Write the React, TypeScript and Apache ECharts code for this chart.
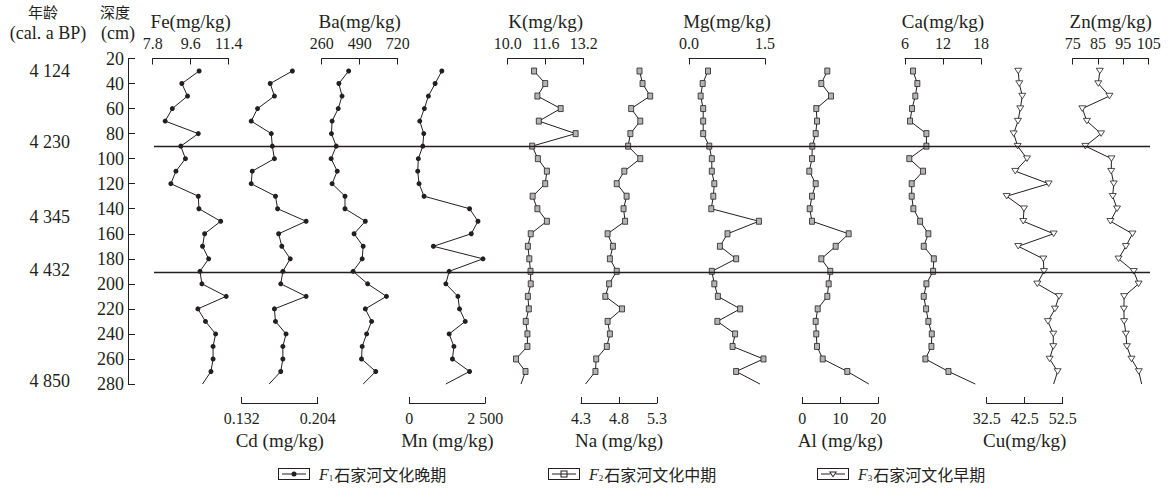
import React, { useEffect, useRef } from 'react';
import * as echarts from 'echarts';

// ---------- data ----------
// sample depths (cm); the last entry (280) is where each profile line ends, without a marker
const depths = [30, 40, 50, 60, 70, 80, 90, 100, 110, 120, 130, 140, 150, 160, 170, 180, 190, 200, 210, 220, 230, 240, 250, 260, 270, 280];

const feValues = [10.0, 9.18, 9.45, 8.73, 8.39, 9.96, 9.13, 9.35, 8.9, 8.66, 9.96, 9.99, 11.02, 10.26, 10.16, 10.45, 10.04, 10.13, 11.28, 9.94, 10.3, 10.78, 10.66, 10.66, 10.56, 10.16];
const cdValues = [0.180, 0.159, 0.163, 0.147, 0.141, 0.160, 0.161, 0.163, 0.142, 0.141, 0.164, 0.166, 0.193, 0.167, 0.170, 0.178, 0.171, 0.169, 0.193, 0.163, 0.164, 0.174, 0.171, 0.171, 0.169, 0.158];
const baValues = [423, 364, 383, 360, 323, 319, 348, 317, 354, 323, 401, 401, 524, 456, 511, 505, 450, 538, 652, 524, 562, 532, 505, 501, 587, 511];
const mnValues = [1070, 849, 628, 495, 344, 476, 443, 297, 277, 320, 486, 1982, 2259, 2038, 793, 2424, 1311, 1202, 1599, 1652, 1840, 1311, 1467, 1420, 1982, 1202];
const kValues = [11.11, 11.58, 11.25, 12.23, 11.31, 12.86, 11.03, 11.27, 11.65, 11.58, 11.05, 11.25, 11.65, 10.97, 10.85, 10.91, 10.96, 10.97, 10.85, 10.89, 10.76, 10.83, 10.83, 10.35, 10.75, 10.56];
const naValues = [5.07, 5.11, 5.21, 4.96, 5.08, 4.95, 4.92, 5.08, 4.87, 4.77, 4.90, 4.86, 4.88, 4.65, 4.72, 4.68, 4.77, 4.67, 4.62, 4.84, 4.65, 4.68, 4.64, 4.50, 4.49, 4.36];
const mgValues = [0.375, 0.27, 0.23, 0.28, 0.28, 0.28, 0.40, 0.45, 0.45, 0.50, 0.48, 0.44, 1.38, 0.76, 0.61, 0.93, 0.45, 0.50, 0.57, 1.01, 0.56, 0.91, 0.86, 1.47, 0.93, 1.40];
const alValues = [6.58, 5.0, 7.55, 3.68, 3.87, 3.52, 2.63, 2.55, 1.84, 3.52, 2.55, 1.95, 2.55, 12.2, 8.78, 5.0, 7.36, 6.94, 6.58, 4.05, 3.52, 3.68, 3.87, 5.37, 11.84, 17.5];
const caValues = [7.27, 7.95, 7.63, 7.11, 6.79, 9.38, 9.38, 6.68, 8.85, 7.06, 7.06, 7.32, 8.38, 9.69, 8.96, 10.55, 10.44, 9.38, 8.96, 9.33, 9.69, 10.23, 10.17, 9.22, 12.86, 17.1];
const cuValues = [40.8, 41.07, 41.86, 41.34, 40.73, 39.6, 40.65, 43.1, 40.02, 48.8, 37.76, 42.31, 42.13, 50.12, 40.81, 47.39, 47.57, 45.81, 51.52, 50.46, 48.62, 50.02, 50.02, 49.07, 51.17, 50.12];
const znValues = [85.7, 85.1, 89.5, 78.8, 80.6, 86.2, 80.0, 90.3, 90.2, 91.2, 90.8, 92.5, 89.9, 98.6, 96.0, 93.1, 99.1, 101.0, 95.3, 95.2, 95.3, 96.0, 96.4, 98.2, 101.1, 102.2];

// scale brackets
const feTicks = [7.8, 9.6, 11.4];
const feTickLabels = ['7.8', '9.6', '11.4'];
const cdTicks = [0.132, 0.204];
const cdTickLabels = ['0.132', '0.204'];
const baTicks = [260, 490, 720];
const baTickLabels = ['260', '490', '720'];
const mnTicks = [0, 2500];
const mnTickLabels = ['0', '2 500'];
const kTicks = [10.0, 11.6, 13.2];
const kTickLabels = ['10.0', '11.6', '13.2'];
const naTicks = [4.3, 4.8, 5.3];
const naTickLabels = ['4.3', '4.8', '5.3'];
const mgTicks = [0.0, 1.5];
const mgTickLabels = ['0.0', '1.5'];
const alTicks = [0, 10, 20];
const alTickLabels = ['0', '10', '20'];
const caTicks = [6, 12, 18];
const caTickLabels = ['6', '12', '18'];
const cuTicks = [32.5, 42.5, 52.5];
const cuTickLabels = ['32.5', '42.5', '52.5'];
const znTicks = [75, 85, 95, 105];
const znTickLabels = ['75', '85', '95', '105'];

// depth axis
const depthTicks = [20, 40, 60, 80, 100, 120, 140, 160, 180, 200, 220, 240, 260, 280];
// ages (cal. a BP) and the depths they are written at
const ageDepths = [30, 87, 147, 189, 278];
const ageLabels = ['4 124', '4 230', '4 345', '4 432', '4 850'];
// zone boundaries (cm)
const boundaryDepths = [90, 191];
// legend
const legendNames = ['F1石家河文化晚期', 'F2石家河文化中期', 'F3石家河文化早期'];

// ---------- styling / layout ----------
const INK = '#231f20';
const SERIF = 'Liberation Serif';
const CJK = 'Noto Sans CJK SC';
const TOP = 58.5;
const H = 325.5;
const PANEL_W = 76;
const panelLeft = [152.7, 241.7, 321.7, 409.3, 507.7, 581, 689, 802.3, 905, 986.7, 1072.7];
const legendLeft = [278, 548, 817];

type Mark = 'dot' | 'square' | 'tri';
const panels: { name: string; values: number[]; ticks: number[]; labels: string[]; side: 'top' | 'bottom'; mark: Mark }[] = [
  { name: 'Fe(mg/kg)', values: feValues, ticks: feTicks, labels: feTickLabels, side: 'top', mark: 'dot' },
  { name: 'Cd (mg/kg)', values: cdValues, ticks: cdTicks, labels: cdTickLabels, side: 'bottom', mark: 'dot' },
  { name: 'Ba(mg/kg)', values: baValues, ticks: baTicks, labels: baTickLabels, side: 'top', mark: 'dot' },
  { name: 'Mn (mg/kg)', values: mnValues, ticks: mnTicks, labels: mnTickLabels, side: 'bottom', mark: 'dot' },
  { name: 'K(mg/kg)', values: kValues, ticks: kTicks, labels: kTickLabels, side: 'top', mark: 'square' },
  { name: 'Na (mg/kg)', values: naValues, ticks: naTicks, labels: naTickLabels, side: 'bottom', mark: 'square' },
  { name: 'Mg(mg/kg)', values: mgValues, ticks: mgTicks, labels: mgTickLabels, side: 'top', mark: 'square' },
  { name: 'Al (mg/kg)', values: alValues, ticks: alTicks, labels: alTickLabels, side: 'bottom', mark: 'square' },
  { name: 'Ca(mg/kg)', values: caValues, ticks: caTicks, labels: caTickLabels, side: 'top', mark: 'square' },
  { name: 'Cu(mg/kg)', values: cuValues, ticks: cuTicks, labels: cuTickLabels, side: 'bottom', mark: 'tri' },
  { name: 'Zn(mg/kg)', values: znValues, ticks: znTicks, labels: znTickLabels, side: 'top', mark: 'tri' },
];

const markStyle: Record<Mark, any> = {
  dot: { symbol: 'circle', symbolSize: 5, symbolRotate: 0, itemStyle: { color: INK } },
  square: { symbol: 'rect', symbolSize: [5, 6], symbolRotate: 0, itemStyle: { color: '#b4b4b4', borderColor: INK, borderWidth: 0.8 } },
  tri: { symbol: 'triangle', symbolSize: [7, 5.5], symbolRotate: 180, itemStyle: { color: '#ffffff', borderColor: INK, borderWidth: 0.8 } },
};

const legendIcons = [
  'path://M0,0H32V12H0Z M1,1V11H31V1Z M4,5.5H28V6.5H4Z M13.5,6A2.5,2.5,0,0,1,18.5,6A2.5,2.5,0,0,1,13.5,6Z',
  'path://M0,0H32V12H0Z M1,1V11H31V1Z M4,5.5H28V6.5H4Z M12.5,2.5H19.5V9.5H12.5Z M13.5,3.5V8.5H18.5V3.5Z',
  'path://M0,0H32V12H0Z M1,1V11H31V1Z M4,5.5H13.3V6.5H4Z M18.7,5.5H28V6.5H18.7Z M12,3.5H20L16,9.5Z M13.7,4.4L16,7.9L18.3,4.4Z',
];

function nearestLabel(ticks: number[], labels: string[]) {
  return (v: number) => {
    let best = 0;
    ticks.forEach((t, i) => {
      if (Math.abs(t - v) < Math.abs(ticks[best] - v)) best = i;
    });
    return labels[best];
  };
}

function profileData(values: number[]) {
  return values.map((v, i) =>
    i === values.length - 1 ? { value: [v, depths[i]], symbol: 'none' } : [v, depths[i]]
  );
}

function buildOption() {
  const grid: any[] = [
    { left: 128, top: TOP, width: 1, height: H, outerBoundsMode: 'none' },
    { left: 154, top: TOP, width: 996, height: H, outerBoundsMode: 'none' },
  ];
  const xAxis: any[] = [
    { gridIndex: 0, type: 'value', min: 0, max: 1, show: false },
    { gridIndex: 1, type: 'value', min: 0, max: 1, show: false },
  ];
  const yAxis: any[] = [
    {
      gridIndex: 0, type: 'value', min: 20, max: 280, inverse: true, position: 'left',
      axisLine: { show: true, onZero: false, lineStyle: { color: INK, width: 1 } },
      axisTick: { show: true, inside: true, length: 7, customValues: depthTicks, lineStyle: { color: INK, width: 1 } },
      axisLabel: { show: true, customValues: depthTicks, fontSize: 18, color: INK, fontFamily: SERIF, margin: 4 },
      splitLine: { show: false },
    },
    {
      gridIndex: 0, type: 'value', min: 20, max: 280, inverse: true, position: 'left', offset: 50,
      axisLine: { show: false }, axisTick: { show: false }, splitLine: { show: false },
      axisLabel: {
        show: true, customValues: ageDepths, formatter: nearestLabel(ageDepths, ageLabels),
        fontSize: 18, color: INK, fontFamily: SERIF, margin: 8,
      },
    },
    { gridIndex: 1, type: 'value', min: 20, max: 280, inverse: true, show: false },
  ];
  const series: any[] = [
    {
      type: 'line', xAxisIndex: 1, yAxisIndex: 2, data: [], silent: true,
      markLine: {
        silent: true, symbol: ['none', 'none'], label: { show: false },
        lineStyle: { color: INK, width: 1.4, type: 'solid' },
        emphasis: { disabled: true },
        data: boundaryDepths.map((d) => ({ yAxis: d })),
      },
    },
  ];

  panels.forEach((p, i) => {
    const gi = grid.length;
    grid.push({ left: panelLeft[i], top: TOP, width: PANEL_W, height: H, outerBoundsMode: 'none' });
    const fmt = nearestLabel(p.ticks, p.labels);
    xAxis.push({
      gridIndex: gi, type: 'value', position: p.side,
      min: p.ticks[0], max: p.ticks[p.ticks.length - 1],
      offset: p.side === 'bottom' ? 19 : 0,
      name: p.name, nameLocation: 'middle', nameGap: p.side === 'top' ? 24 : 27,
      nameTextStyle: { fontSize: 19, color: INK, fontFamily: SERIF },
      axisLine: { show: true, onZero: false, lineStyle: { color: INK, width: 1 } },
      axisTick: { show: true, inside: true, length: 6, customValues: p.ticks, lineStyle: { color: INK, width: 1 } },
      axisLabel: { show: true, customValues: p.ticks, formatter: fmt, fontSize: 16, color: INK, fontFamily: SERIF, margin: 7 },
      splitLine: { show: false },
    });
    const yi = yAxis.length;
    yAxis.push({ gridIndex: gi, type: 'value', min: 20, max: 280, inverse: true, show: false });
    const m = markStyle[p.mark];
    series.push({
      type: 'line', name: p.name, xAxisIndex: xAxis.length - 1, yAxisIndex: yi,
      data: profileData(p.values),
      symbol: m.symbol, symbolSize: m.symbolSize, symbolRotate: m.symbolRotate,
      showSymbol: true, clip: false, silent: true,
      itemStyle: m.itemStyle,
      lineStyle: { color: INK, width: 1 },
      emphasis: { disabled: true },
      z: 3,
    });
  });

  // legend-only series (the three factor groups)
  legendNames.forEach((n, i) => {
    const m = markStyle[(['dot', 'square', 'tri'] as Mark[])[i]];
    series.push({
      type: 'line', name: n, xAxisIndex: 1, yAxisIndex: 2, data: [],
      symbol: m.symbol, itemStyle: m.itemStyle, lineStyle: { color: INK, width: 1 },
    });
  });

  const legend = legendNames.map((n, i) => ({
    data: [n], left: legendLeft[i], top: 466, orient: 'horizontal', padding: 0,
    itemWidth: 32, itemHeight: 12, itemGap: 0, icon: legendIcons[i], selectedMode: false,
    itemStyle: { color: INK, borderWidth: 0 },
    formatter: (name: string) => `{f|F}{s|${name.charAt(1)}}{t|${name.slice(2)}}`,
    textStyle: {
      color: INK,
      rich: {
        f: { fontStyle: 'italic', fontFamily: SERIF, fontSize: 16, color: INK, padding: [0, 0, 0, 4] },
        s: { fontFamily: SERIF, fontSize: 9, color: INK, verticalAlign: 'bottom', padding: [0, 1, 0, 0] },
        t: { fontFamily: CJK, fontSize: 16, color: INK },
      },
    },
  }));

  const headerText = (text: string, x: number, y: number, size: number, family: string) => ({
    type: 'text', x, y, silent: true,
    style: { text, fontSize: size, fontFamily: family, fill: INK, align: 'center', verticalAlign: 'middle' },
  });

  return {
    animation: false,
    backgroundColor: '#ffffff',
    textStyle: { fontFamily: SERIF, color: INK },
    grid, xAxis, yAxis, series, legend,
    graphic: [
      headerText('年龄', 43, 11, 15, CJK),
      headerText('(cal. a BP)', 48, 33, 18, SERIF),
      headerText('深度', 115, 11, 15, CJK),
      headerText('(cm)', 118, 33, 18, SERIF),
    ],
  };
}

export default function App() {
  const ref = useRef<HTMLDivElement>(null);
  useEffect(() => {
    if (!ref.current) return;
    const chart = echarts.init(ref.current, undefined, { renderer: 'svg' });
    chart.setOption(buildOption() as any);
    return () => chart.dispose();
  }, []);
  return (
    <div
      ref={ref}
      style={{ position: 'fixed', left: 0, top: 0, width: 1176, height: 489, background: '#fff' }}
    />
  );
}
